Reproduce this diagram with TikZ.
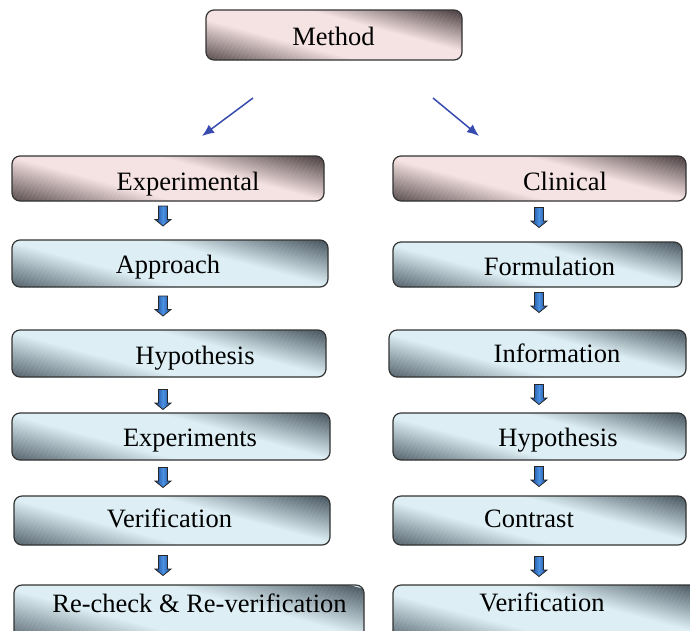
\documentclass[tikz,border=0pt]{standalone}
\usepackage{fontspec}
\setmainfont{Liberation Serif}
\usetikzlibrary{arrows.meta}
\definecolor{pl}{RGB}{245,226,226}
\definecolor{pd}{RGB}{84,72,74}
\definecolor{bl}{RGB}{221,239,245}
\definecolor{bd}{RGB}{80,94,104}
\definecolor{ad}{RGB}{25,70,150}
\definecolor{al}{RGB}{75,145,225}
\definecolor{linkblue}{RGB}{55,75,175}
% diagonal gradient: iso-lines run gently down-right, dark at lower-left and upper-right corners
\newcommand{\gradfill}[2]{%
  \pgfpointdiff{\pgfpointanchor{path picture bounding box}{south west}}{\pgfpointanchor{path picture bounding box}{north east}}%
  \pgfgetlastxy{\gw}{\gh}%
  \pgfmathsetmacro{\gT}{0.5*\gw*0.2588+0.5*\gh*0.9659}%
  \begin{scope}[shift={(path picture bounding box.center)}, x=1pt, y=1pt]
  \foreach \i in {-62,...,61} {%
    \pgfmathsetmacro{\ta}{\i*1.1}%
    \pgfmathsetmacro{\tb}{\i*1.1+1.4}%
    \pgfmathsetmacro{\gr}{(\i+0.5)*1.1/\gT}%
    \pgfmathsetmacro{\ga}{\gr<0 ? (-\gr-0.32)/0.70 : (\gr-0.30)/0.64}%
    \pgfmathsetmacro{\gb}{max(0,min(1,\ga))}%
    \pgfmathsetmacro{\gp}{100*\gb}%
    \fill[#1!\gp!#2] ({\ta*0.2588+386.4},{\ta*0.9659-103.5}) -- ({\ta*0.2588-386.4},{\ta*0.9659+103.5})
      -- ({\tb*0.2588-386.4},{\tb*0.9659+103.5}) -- ({\tb*0.2588+386.4},{\tb*0.9659-103.5}) -- cycle;
  }
  \end{scope}}
\newcommand{\blockarrow}[3]{%
  \coordinate (#1) at (#2,#3);
  \draw[blk, shift={(#1)}] (-4.5,-10) -- (4.5,-10) -- (4.5,3.5) -- (8,3.5) -- (0,10)
    -- (-8,3.5) -- (-4.5,3.5) -- cycle;}
\begin{document}
\begin{tikzpicture}[x=1pt,y=-1pt,
  box/.style={draw=black!80, line width=1.2pt, rounded corners=8pt, inner sep=0pt},
  pinkbox/.style={box, fill=pl, path picture={\gradfill{pd}{pl}}},
  bluebox/.style={box, fill=bl, path picture={\gradfill{bd}{bl}}},
  lbl/.style={anchor=base, inner sep=0pt, font=\fontsize{26.5}{30}\selectfont},
  blk/.style={draw=black!85, line width=0.8pt, line join=miter,
    left color=ad, right color=ad, middle color=al},
  link/.style={draw=linkblue, line width=1.5pt, -{Latex[length=12pt,width=10pt]}}]
\useasboundingbox (0,0) rectangle (690,630);
% boxes
\node[pinkbox, minimum width=256pt, minimum height=50pt] (method) at (334,35) {};
\node[pinkbox, minimum width=312pt, minimum height=45pt] (exp) at (168,178.5) {};
\node[pinkbox, minimum width=293pt, minimum height=45pt] (cli) at (539.5,178.5) {};
\node[bluebox, minimum width=316pt, minimum height=47pt] (appr) at (170,263.5) {};
\node[bluebox, minimum width=289pt, minimum height=45pt] (form) at (537.5,264.5) {};
\node[bluebox, minimum width=314pt, minimum height=47pt] (hypl) at (169,353.5) {};
\node[bluebox, minimum width=297pt, minimum height=47pt] (info) at (537.5,353.5) {};
\node[bluebox, minimum width=318pt, minimum height=47pt] (expts) at (171,436.5) {};
\node[bluebox, minimum width=293pt, minimum height=47pt] (hypr) at (539.5,436.5) {};
\node[bluebox, minimum width=316pt, minimum height=49pt] (verl) at (172,520.5) {};
\node[bluebox, minimum width=293pt, minimum height=49pt] (contr) at (539.5,520.5) {};
\node[bluebox, minimum width=350pt, minimum height=56pt] (rech) at (189,613) {};
\node[bluebox, minimum width=307pt, minimum height=56pt] (verr) at (546.5,613) {};
% texts
\node[lbl] (tmethod) at (333.5,45) {Method};
\node[lbl] (texp) at (188,190) {Experimental};
\node[lbl] (tcli) at (565,190) {Clinical};
\node[lbl] (tappr) at (168,273) {Approach};
\node[lbl] (tform) at (549.5,275) {Formulation};
\node[lbl] (thypl) at (195,364) {Hypothesis};
\node[lbl] (tinfo) at (557,362) {Information};
\node[lbl] (texpts) at (190,446) {Experiments};
\node[lbl] (thypr) at (558,446) {Hypothesis};
\node[lbl] (tverl) at (169.5,527) {Verification};
\node[lbl] (tcontr) at (529,527) {Contrast};
\node[lbl] (trech) at (199.5,612) {Re-check \& Re-verification};
\node[lbl] (tverr) at (542,611) {Verification};
% diagonal links
\coordinate (la) at (253,98);
\coordinate (lb) at (202,136);
\coordinate (ra) at (433,98);
\coordinate (rb) at (479,136);
\draw[link] (la) -- (lb);
\draw[link] (ra) -- (rb);
% block arrows
\blockarrow{a1}{163}{216}
\blockarrow{a2}{163}{306}
\blockarrow{a3}{163}{399.5}
\blockarrow{a4}{163}{477.5}
\blockarrow{a5}{163}{565.5}
\blockarrow{b1}{539}{217.5}
\blockarrow{b2}{539}{302.5}
\blockarrow{b3}{539}{394.5}
\blockarrow{b4}{539}{476.5}
\blockarrow{b5}{539}{566.5}
\end{tikzpicture}
\end{document}
